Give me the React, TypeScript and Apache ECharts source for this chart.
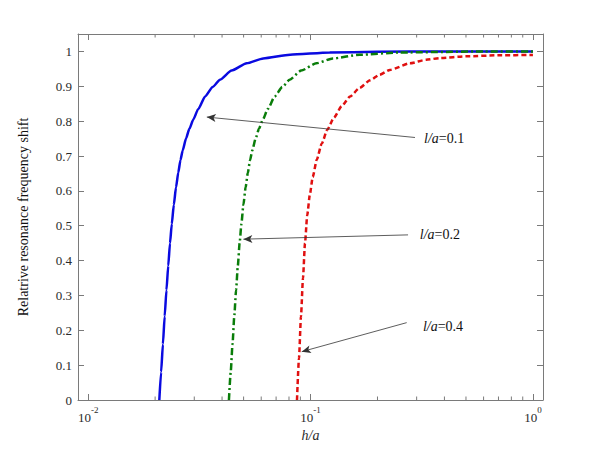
import React, { useEffect, useRef } from "react";
import * as echarts from "echarts";

// ---- data ----
const blueX = [0.02089, 0.02128, 0.02168, 0.02208, 0.02249, 0.02291, 0.02333, 0.02377, 0.02427, 0.02483, 0.02541, 0.026, 0.02661, 0.02754, 0.02851, 0.02972, 0.03126, 0.03357, 0.03631, 0.03917, 0.04416, 0.05164, 0.06124, 0.08091, 0.1219, 0.1995, 0.3981, 1.0];
const blueY = [0, 0.08, 0.16, 0.24, 0.315, 0.385, 0.45, 0.505, 0.56, 0.61, 0.652, 0.688, 0.716, 0.75, 0.778, 0.805, 0.835, 0.871, 0.898, 0.919, 0.945, 0.966, 0.98, 0.9905, 0.997, 0.999, 1.0, 1.0];

const greenX = [0.04295, 0.04375, 0.04457, 0.04539, 0.04624, 0.0471, 0.04797, 0.04887, 0.04989, 0.05105, 0.05224, 0.05346, 0.0547, 0.05662, 0.05861, 0.06109, 0.06427, 0.06902, 0.07464, 0.08054, 0.09078, 0.1062, 0.1259, 0.1663, 0.2506, 0.6, 1.0];
const greenY = [0, 0.08, 0.16, 0.24, 0.315, 0.385, 0.45, 0.505, 0.56, 0.61, 0.652, 0.688, 0.716, 0.75, 0.778, 0.805, 0.835, 0.871, 0.898, 0.919, 0.945, 0.966, 0.98, 0.9905, 0.997, 1.0, 1.0];

const redX = [0.0869, 0.08872, 0.09057, 0.09247, 0.09441, 0.09661, 0.09931, 0.1023, 0.1067, 0.1122, 0.1189, 0.1274, 0.138, 0.1507, 0.166, 0.1849, 0.2042, 0.2275, 0.2799, 0.3311, 0.3819, 0.5012, 0.7079, 1.0];
const redY = [0, 0.12, 0.24, 0.35, 0.45, 0.53, 0.59, 0.64, 0.69, 0.735, 0.775, 0.81, 0.843, 0.871, 0.895, 0.917, 0.933, 0.947, 0.966, 0.976, 0.981, 0.986, 0.989, 0.99];

const minorTicks = [0.02, 0.03, 0.04, 0.05, 0.06, 0.07, 0.08, 0.09, 0.2, 0.3, 0.4, 0.5, 0.6, 0.7, 0.8, 0.9];

// annotations
const annLabels = ["0.1", "0.2", "0.4"];
const annTail = [[0.2949, 0.7531], [0.2744, 0.4737], [0.2706, 0.2219]];
const annHead = [[0.03416, 0.8117], [0.04989, 0.4614], [0.0913, 0.1387]];
const annText = [[0.3237, 0.75], [0.31, 0.474], [0.32, 0.211]];

const X_MIN = 0.009;
const X_MAX = 1.11;
const Y_MIN = 0;
const Y_MAX = 1.05;

const FONT = "Liberation Serif";
const AXIS_COLOR = "#7a7a7a";
const TEXT_COLOR = "#2a2a2a";

const zip = (xs: number[], ys: number[]) => xs.map((x, i) => [x, ys[i]]);

export default function App() {
  const ref = useRef<HTMLDivElement>(null);
  useEffect(() => {
    if (!ref.current) return;
    const chart = echarts.init(ref.current, undefined, { renderer: "svg" });

    const supFormatter = (v: number) => {
      const e = Math.log10(v);
      if (Math.abs(e - Math.round(e)) > 1e-6) return "";
      return "{b|10}{s|" + Math.round(e) + "}";
    };

    const option: any = {
      animation: false,
      backgroundColor: "#fff",
      textStyle: { fontFamily: FONT },
      grid: { left: 78, right: 57, top: 34, bottom: 50, containLabel: false },
      xAxis: [
        {
          type: "log",
          logBase: 10,
          min: X_MIN,
          max: X_MAX,
          position: "bottom",
          name: "h/a",
          nameLocation: "middle",
          nameGap: 25,
          nameTextStyle: { fontFamily: FONT, fontSize: 14, fontStyle: "italic", color: TEXT_COLOR },
          axisLine: { show: true, onZero: false, lineStyle: { color: AXIS_COLOR, width: 1 } },
          axisTick: { show: true, inside: true, length: 6, lineStyle: { color: AXIS_COLOR } },
          splitLine: { show: false },
          minorTick: { show: false },
          axisLabel: {
            show: true,
            margin: 5,
            color: TEXT_COLOR,
            fontFamily: FONT,
            showMinLabel: false,
            showMaxLabel: false,
            formatter: supFormatter,
            rich: {
              b: { fontFamily: FONT, fontSize: 13, color: TEXT_COLOR, lineHeight: 19, verticalAlign: "bottom" },
              s: { fontFamily: FONT, fontSize: 9, color: TEXT_COLOR, verticalAlign: "top", lineHeight: 19 },
            },
          },
        },
        {
          type: "log",
          logBase: 10,
          min: X_MIN,
          max: X_MAX,
          position: "top",
          axisLine: { show: true, onZero: false, lineStyle: { color: AXIS_COLOR, width: 1 } },
          axisTick: { show: true, inside: true, length: 6, lineStyle: { color: AXIS_COLOR } },
          axisLabel: { show: false },
          splitLine: { show: false },
        },
      ],
      yAxis: [
        {
          type: "value",
          min: Y_MIN,
          max: Y_MAX,
          interval: 0.1,
          position: "left",
          name: "Relatrive resonance frequency shift",
          nameLocation: "middle",
          nameGap: 48,
          nameTextStyle: { fontFamily: FONT, fontSize: 14, color: "#111" },
          axisLine: { show: true, onZero: false, lineStyle: { color: AXIS_COLOR, width: 1 } },
          axisTick: { show: true, inside: true, length: 6, lineStyle: { color: AXIS_COLOR } },
          splitLine: { show: false },
          axisLabel: {
            margin: 6,
            fontFamily: FONT,
            fontSize: 13,
            color: TEXT_COLOR,
            formatter: (v: number) => (v > 1.0001 ? "" : String(Math.round(v * 10) / 10)),
          },
        },
        {
          type: "value",
          min: Y_MIN,
          max: Y_MAX,
          interval: 0.1,
          position: "right",
          axisLine: { show: true, onZero: false, lineStyle: { color: AXIS_COLOR, width: 1 } },
          axisTick: { show: true, inside: true, length: 6, lineStyle: { color: AXIS_COLOR } },
          axisLabel: { show: false },
          splitLine: { show: false },
        },
      ],
      series: [
        {
          type: "line",
          name: "l/a=0.1",
          data: zip(blueX, blueY),
          showSymbol: false,
          smooth: 0.2,
          smoothMonotone: "x",
          lineStyle: { color: "#0a0ae0", width: 2.5, type: "solid" },
          itemStyle: { color: "#0a0ae0" },
          z: 3,
        },
        {
          type: "line",
          name: "l/a=0.2",
          data: zip(greenX, greenY),
          showSymbol: false,
          smooth: 0.2,
          smoothMonotone: "x",
          lineStyle: { color: "#0a7d0a", width: 2.5, type: [7, 3, 2, 3] },
          itemStyle: { color: "#0a7d0a" },
          z: 3,
        },
        {
          type: "line",
          name: "l/a=0.4",
          data: zip(redX, redY),
          showSymbol: false,
          smooth: 0.2,
          smoothMonotone: "x",
          lineStyle: { color: "#e01010", width: 2.5, type: [5, 3] },
          itemStyle: { color: "#e01010" },
          z: 3,
        },
        {
          type: "line",
          name: "annotations",
          data: [],
          silent: true,
          markLine: {
            silent: true,
            animation: false,
            symbol: ["none", "arrow"],
            symbolSize: [6, 9],
            label: { show: false },
            lineStyle: { color: "#333", width: 0.8, type: "solid" },
            data: annTail.map((t, i) => [{ coord: t }, { coord: annHead[i] }]),
          },
          markPoint: {
            silent: true,
            animation: false,
            symbol: "circle",
            symbolSize: 0,
            data: annText.map((p, i) => ({
              coord: p,
              label: {
                show: true,
                position: "right",
                distance: 0,
                formatter: "{i|l/a}{n|=" + annLabels[i] + "}",
                rich: {
                  i: { fontFamily: FONT, fontSize: 14, fontStyle: "italic", color: "#111" },
                  n: { fontFamily: FONT, fontSize: 14, color: "#111" },
                },
              },
            })),
          },
        },
        {
          type: "custom",
          name: "minorTicks",
          coordinateSystem: "cartesian2d",
          silent: true,
          clip: false,
          data: minorTicks.map((v) => [v, 0]),
          renderItem: (params: any, api: any) => {
            const v = api.value(0);
            const pb = api.coord([v, Y_MIN]);
            const pt = api.coord([v, Y_MAX]);
            const st = { stroke: AXIS_COLOR, lineWidth: 1 };
            return {
              type: "group",
              children: [
                { type: "line", shape: { x1: pb[0], y1: pb[1], x2: pb[0], y2: pb[1] - 3.5 }, style: st },
                { type: "line", shape: { x1: pt[0], y1: pt[1], x2: pt[0], y2: pt[1] + 3.5 }, style: st },
              ],
            };
          },
        },
      ],
    };

    chart.setOption(option);
    return () => chart.dispose();
  }, []);

  return <div ref={ref} style={{ width: 600, height: 450, position: "absolute", left: 0, top: 0 }} />;
}
